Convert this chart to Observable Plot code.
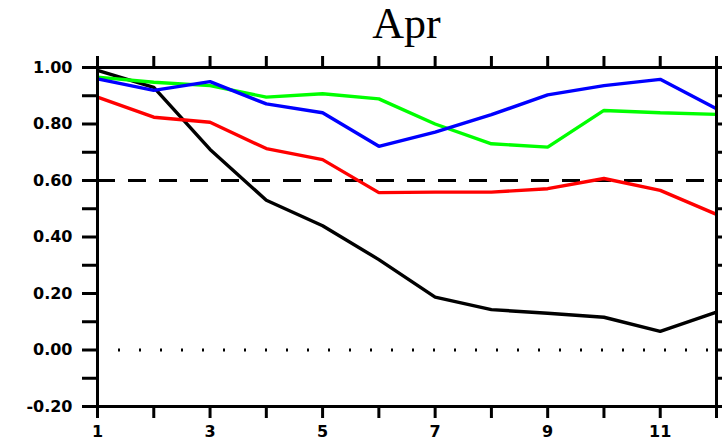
<!DOCTYPE html>
<html>
<head>
<meta charset="utf-8">
<script src="https://cdn.jsdelivr.net/npm/d3@7"></script>
<script src="https://cdn.jsdelivr.net/npm/@observablehq/plot@0.6"></script>
<style>
  html, body { margin: 0; padding: 0; background: #fff; }
  #wrap { position: relative; width: 722px; height: 441px; overflow: hidden; }
  #title { position: absolute; left: 97px; width: 619px; top: 0; height: 48px; line-height: 48px;
           text-align: center; font-family: "Liberation Serif", "Times New Roman", serif; font-size: 44px; color: #000; }
  #chart { position: absolute; left: 0; top: 48px; }
</style>
</head>
<body>
<div id="wrap">
  <div id="title">Apr</div>
  <div id="chart"></div>
</div>
<script>
const months = [1, 2, 3, 4, 5, 6, 7, 8, 9, 10, 11, 12];
const blackSeries = [0.99, 0.93, 0.71, 0.53, 0.44, 0.32, 0.187, 0.143, 0.13, 0.116, 0.066, 0.134];
const redSeries   = [0.895, 0.824, 0.806, 0.713, 0.674, 0.557, 0.559, 0.559, 0.571, 0.607, 0.565, 0.48];
const greenSeries = [0.966, 0.948, 0.936, 0.895, 0.907, 0.889, 0.80, 0.73, 0.718, 0.848, 0.84, 0.834];
const blueSeries  = [0.96, 0.919, 0.95, 0.871, 0.84, 0.721, 0.771, 0.833, 0.903, 0.936, 0.958, 0.854];
const xLabelTicks = [1, 3, 5, 7, 9, 11];
const yMajorTicks = [-0.2, 0, 0.2, 0.4, 0.6, 0.8, 1.0];
const yAllTicks = [-0.2, -0.1, 0, 0.1, 0.2, 0.3, 0.4, 0.5, 0.6, 0.7, 0.8, 0.9, 1.0];
const referenceLevel = [0.6];
const zeroLevel = [0];

const series = [
  {name: "black", color: "#000000", values: blackSeries},
  {name: "red", color: "#ff0000", values: redSeries},
  {name: "green", color: "#00ff00", values: greenSeries},
  {name: "blue", color: "#0000ff", values: blueSeries}
];

const isMajor = v => yMajorTicks.some(m => Math.abs(m - v) < 1e-9);
const fontOpts = {fontSize: 16, fontWeight: "bold", fontFamily: "DejaVu Sans, Liberation Sans, sans-serif"};

const lineMarks = series.map(s =>
  Plot.line(months.map((m, i) => ({x: m, y: s.values[i]})),
    {x: "x", y: "y", stroke: s.color, strokeWidth: 3.4, strokeLinejoin: "miter", strokeLinecap: "butt"})
);

const chart = Plot.plot({
  width: 722,
  height: 393,
  marginLeft: 97,
  marginRight: 6,
  marginTop: 19,
  marginBottom: 35,
  x: {domain: [1, 12]},
  y: {domain: [-0.2, 1.0]},
  style: {background: "transparent", color: "#000", fontFamily: "DejaVu Sans, sans-serif", fontWeight: "bold", fontSize: "16px", overflow: "visible"},
  marks: [
    Plot.ruleY(zeroLevel, {x1: 1, x2: 12, stroke: "#000", strokeWidth: 3, strokeDasharray: "2,19"}),
    Plot.ruleY(referenceLevel, {x1: 1, x2: 12, stroke: "#000", strokeWidth: 3, strokeDasharray: "18,13"}),
    ...lineMarks,
    Plot.axisX({anchor: "bottom", ticks: months, tickSize: 12, tickPadding: 7, strokeWidth: 3,
      tickFormat: d => xLabelTicks.includes(d) ? String(d) : "", label: null, ...fontOpts}),
    Plot.axisX({anchor: "top", ticks: months, tickSize: 12, strokeWidth: 3, tickFormat: () => "", label: null}),
    Plot.axisY({anchor: "left", ticks: yAllTicks, tickSize: 15, tickPadding: 10, strokeWidth: 3,
      tickFormat: d => isMajor(d) ? (Math.abs(d) < 1e-9 ? "0.00" : d.toFixed(2)) : "", label: null, ...fontOpts}),
    Plot.axisY({anchor: "right", ticks: yAllTicks, tickSize: 12, strokeWidth: 3, tickFormat: () => "", label: null}),
    Plot.frame({stroke: "#000", strokeWidth: 3})
  ]
});
document.getElementById("chart").appendChild(chart);
</script>
</body>
</html>
